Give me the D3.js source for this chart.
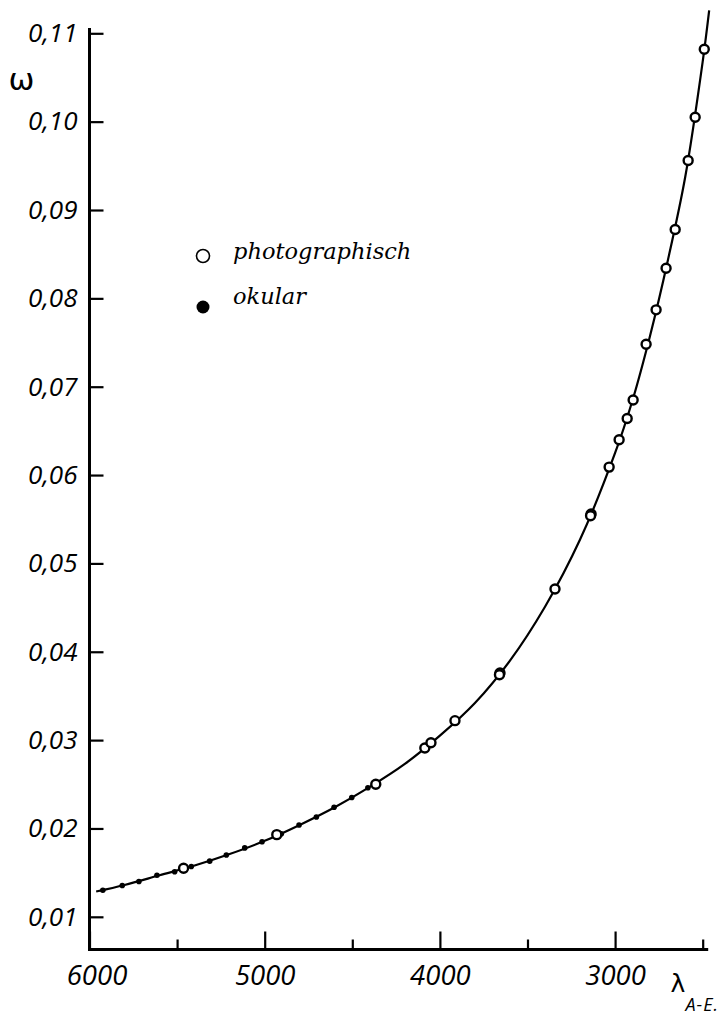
<!DOCTYPE html>
<html>
<head>
<meta charset="utf-8">
<script src="https://cdn.jsdelivr.net/npm/d3@7"></script>
<style>
  html, body { margin: 0; padding: 0; background: #fff; }
  svg { display: block; }
</style>
</head>
<body>
<svg id="chart" width="720" height="1021"></svg>
<script>
// ---- data ----
const xTicksMajor = [6000, 5000, 4000, 3000];
const xTicksMinor = [5500, 4500, 3500, 2500];
const yTicks = [0.01, 0.02, 0.03, 0.04, 0.05, 0.06, 0.07, 0.08, 0.09, 0.10, 0.11];

// photographisch (open circles): wavelength λ (Å), ω
const photoLambda = [5463, 4931, 4366, 4086, 4051, 3914, 3657, 3660, 3343, 3137, 3140, 3034, 2977, 2931, 2897, 2823, 2766, 2709, 2657, 2583, 2543, 2491];
const photoOmega  = [0.0155, 0.0193, 0.0250, 0.0291, 0.0297, 0.0322, 0.0376, 0.0374, 0.0471, 0.0556, 0.0554, 0.0609, 0.0640, 0.0664, 0.0685, 0.0748, 0.0787, 0.0834, 0.0878, 0.0956, 0.1005, 0.1082];

// okular (filled dots)
const okuLambda = [5924, 5813, 5718, 5615, 5514, 5419, 5314, 5219, 5114, 5015, 4905, 4804, 4705, 4604, 4503, 4411];
const okuOmega  = [0.0130, 0.01354, 0.0140, 0.0147, 0.0151, 0.0157, 0.0163, 0.0170, 0.0178, 0.0185, 0.0194, 0.0204, 0.0213, 0.0224, 0.0235, 0.0246];

// drawn smooth curve, sampled along the line in the picture
const curveLambda = [5962, 5800, 5600, 5400, 5200, 5000, 4800, 4600, 4400, 4200, 4000, 3800, 3600, 3400, 3200, 3000, 2900, 2800, 2700, 2600, 2500, 2463];
const curveOmega  = [0.01286, 0.0136, 0.0147, 0.0158, 0.0171, 0.0186, 0.0204, 0.0224, 0.0247, 0.0273, 0.0305, 0.0342, 0.0390, 0.0451, 0.0527, 0.0625, 0.0685, 0.0758, 0.0842, 0.0937, 0.1068, 0.1126];

const legendLabels = ["photographisch", "okular"];

// ---- scales ----
const svg = d3.select("#chart");
const x = d3.scaleLinear().domain([6000, 2460]).range([89.5, 709.7]);
const y = d3.scaleLinear().domain([0.0063, 0.1106]).range([949.5, 28]);

const tickFont = "'Open Sans', 'Liberation Sans', sans-serif";

// ---- axes ----
const gx = svg.append("g").attr("transform", `translate(0,${y.range()[0]})`);
gx.call(d3.axisBottom(x).tickValues(xTicksMajor).tickSize(-18).tickPadding(16)
      .tickFormat(d3.format("d")));
gx.append("g").call(d3.axisBottom(x).tickValues(xTicksMinor).tickSize(-10).tickFormat(""))
  .select(".domain").remove();
gx.select(".domain").attr("d", `M${x.range()[0] - 1.5},0H${x(2460) - 1.5}`);

const gy = svg.append("g").attr("transform", `translate(${x.range()[0]},0)`);
gy.call(d3.axisLeft(y).tickValues(yTicks).tickSize(-14).tickPadding(12)
      .tickFormat(d => d3.format(".2f")(d).replace(".", ",")));
gy.select(".domain").attr("d", `M0,${y.range()[1]}V${y.range()[0] + 1.5}`);

svg.selectAll(".domain").attr("stroke", "#000").attr("stroke-width", 3);
svg.selectAll(".tick line").attr("stroke", "#000").attr("stroke-width", 2.2);
svg.selectAll(".tick text")
  .attr("fill", "#000")
  .style("font-family", tickFont)
  .style("font-style", "italic")
  .style("font-weight", "400")
  .style("font-size", "26px");
gx.selectAll(".tick text").style("font-size", "27.5px");
// first x label set off from the vertical axis
gx.selectAll(".tick text").filter(d => d === 6000).attr("dx", 7);

// ---- curve ----
const curveData = curveLambda.map((l, i) => [l, curveOmega[i]]);
svg.append("path")
  .datum(curveData)
  .attr("fill", "none")
  .attr("stroke", "#000")
  .attr("stroke-width", 2.2)
  .attr("d", d3.line().x(d => x(d[0])).y(d => y(d[1])).curve(d3.curveCatmullRom.alpha(0.5)));

// ---- points ----
svg.append("g").selectAll("circle")
  .data(okuLambda.map((l, i) => [l, okuOmega[i]]))
  .join("circle")
  .attr("cx", d => x(d[0])).attr("cy", d => y(d[1]))
  .attr("r", 2.8).attr("fill", "#000");

svg.append("g").selectAll("circle")
  .data(photoLambda.map((l, i) => [l, photoOmega[i]]))
  .join("circle")
  .attr("cx", d => x(d[0])).attr("cy", d => y(d[1]))
  .attr("r", 4.5).attr("fill", "#fff").attr("stroke", "#000").attr("stroke-width", 2.4);

// ---- legend ----
const leg = svg.append("g");
leg.append("circle").attr("cx", 203).attr("cy", 256).attr("r", 6.5)
  .attr("fill", "#fff").attr("stroke", "#000").attr("stroke-width", 1.6);
leg.append("circle").attr("cx", 203).attr("cy", 307).attr("r", 6.5).attr("fill", "#000");
leg.selectAll("text").data(legendLabels).join("text")
  .attr("x", 233).attr("y", (d, i) => i === 0 ? 259 : 304)
  .style("font-family", "'DejaVu Serif', serif")
  .style("font-style", "italic")
  .style("font-size", "22.5px")
  .text(d => d);

// ---- axis titles ----
svg.append("text").attr("x", 21.5).attr("y", 90).attr("text-anchor", "middle")
  .style("font-family", "'DejaVu Sans', sans-serif").style("font-size", "31px").text("ω");
svg.append("text").attr("x", 678).attr("y", 992).attr("text-anchor", "middle")
  .style("font-family", "'DejaVu Sans', sans-serif").style("font-size", "25px").text("λ");
svg.append("text").attr("x", 719).attr("y", 1011).attr("text-anchor", "end")
  .style("font-family", tickFont).style("font-style", "italic")
  .style("letter-spacing", "1px")
  .style("font-size", "18px").text("A-E.");
</script>
</body>
</html>
